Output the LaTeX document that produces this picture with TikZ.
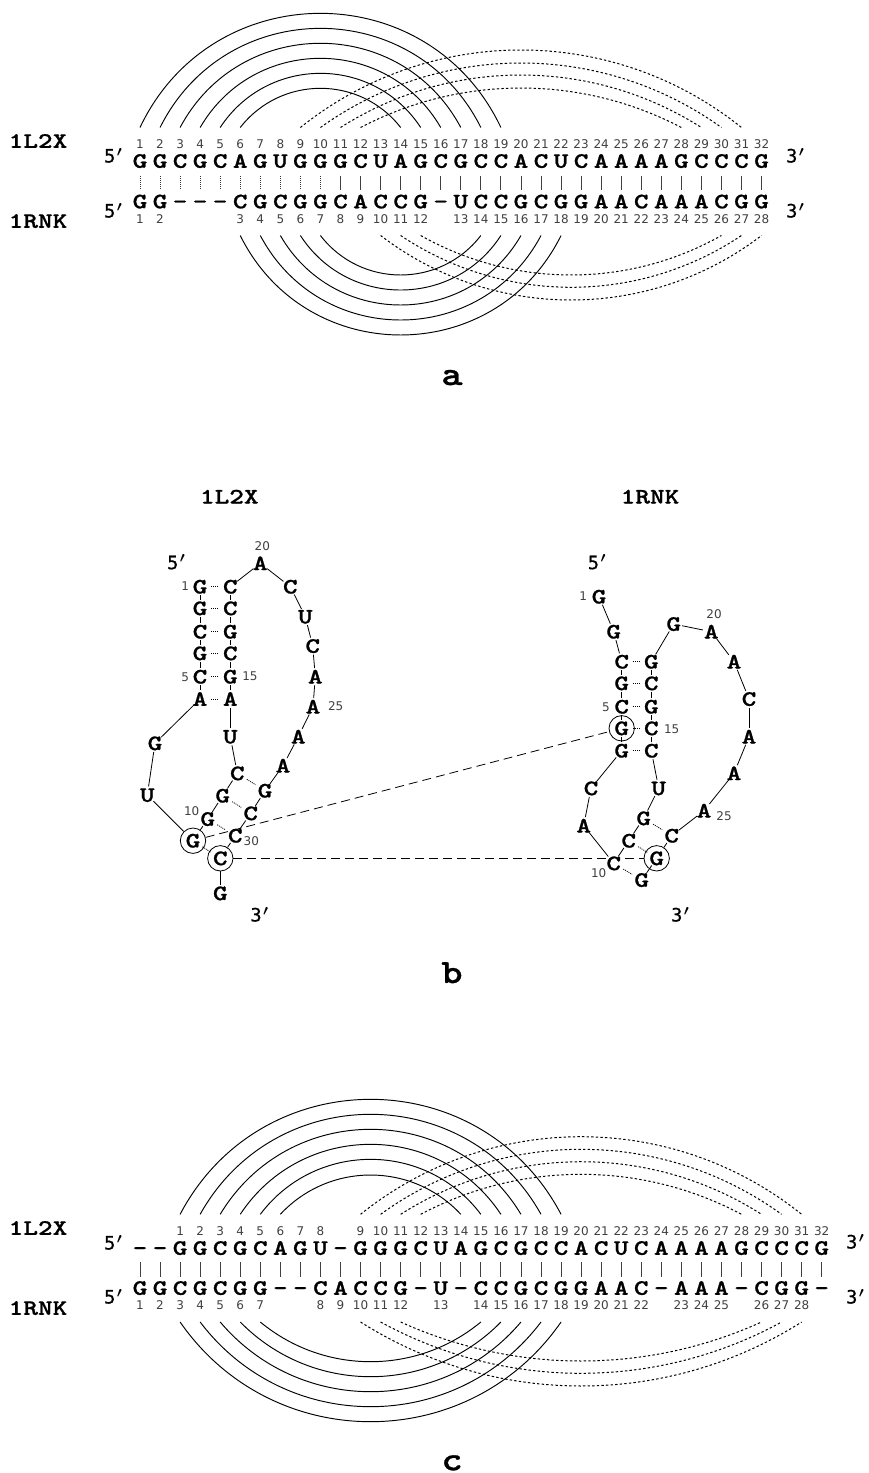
\documentclass[tikz,border=0pt]{standalone}
\usepackage{fontspec}
\newfontfamily\numf{DejaVu Sans}
\newfontfamily\endf[FakeBold=0.7]{DejaVu Sans Mono}
\newfontfamily\seqf[Extension=.otf,FakeBold=0.8]{lmmonolt10-bold}
\newcommand\ltrf{\seqf\fontsize{22}{22}\selectfont}
\newcommand\bl[1]{\makebox[0pt]{\raisebox{-6.8pt}[0pt][0pt]{\scalebox{1.27}[1]{\ltrf #1}}}}
\newcommand\nmt[1]{\makebox[0pt]{\raisebox{-4.6pt}[0pt][0pt]{\numf\fontsize{12}{12}\selectfont\color{black!75}#1}}}
\newcommand\prm[1]{\makebox[0pt]{\raisebox{-6.5pt}[0pt][0pt]{\endf\fontsize{18.5}{18.5}\selectfont #1\kern1.5pt\raisebox{6.5pt}{\fontsize{15}{15}\selectfont\boldmath$\prime$}}}}
\newcommand\panl[1]{\makebox[0pt]{\scalebox{1.18}[1]{\seqf\fontsize{34}{34}\selectfont #1}}}
\tikzset{
  nt/.style={circle,minimum size=17pt,inner sep=0pt},
  tx/.style={inner sep=0pt,minimum size=0pt},
  ringnode/.style={circle,draw,line width=0.8pt,minimum size=25.4pt,inner sep=0pt},
  sarc/.style={line width=0.95pt},
  darc/.style={line width=1pt,dash pattern=on 2.4pt off 2.2pt},
  back/.style={line width=0.8pt},
  pairdot/.style={line width=0.8pt,dash pattern=on 1pt off 1pt,shorten >=2.5pt,shorten <=2.5pt},
  dashl/.style={line width=0.8pt,dash pattern=on 9pt off 5pt},
  barA/.style={line width=0.9pt,black!75,shorten <=6.5pt,shorten >=3pt},
  barAd/.style={line width=0.8pt,black!80,dash pattern=on 1pt off 1pt,shorten <=6.5pt,shorten >=3pt},
  barC/.style={line width=0.9pt,black!75,shorten <=5.5pt,shorten >=2.5pt},
}
% bow between alignment positions #3 and #4 : [style]{tag}{i}{j}{yend}{ypeak}
\newcommand\barc[6][]{%
  \pgfmathsetmacro\bAx{140+(#3-1)*20.05}%
  \pgfmathsetmacro\bBx{140+(#4-1)*20.05}%
  \pgfmathsetmacro\bHw{(\bBx-\bAx)/200}%
  \pgfmathsetmacro\bHh{abs(#6-#5)/100}%
  \pgfmathsetmacro\bRr{(\bHw*\bHw+\bHh*\bHh)/(2*\bHh)}%
  \pgfmathsetmacro\bTh{asin(\bHw/\bRr)}%
  \pgfmathsetmacro\bKk{4/3*tan(\bTh/2)*\bRr*100}%
  \pgfmathsetmacro\bCx{\bKk*cos(\bTh)}%
  \pgfmathsetmacro\bCy{\bKk*sin(\bTh)*ifthenelse(#6<#5,-1,1)}%
  \coordinate (#2s#3) at (\bAx,#5);
  \coordinate (#2e#4) at (\bBx,#5);
  \draw[#1] (#2s#3) .. controls +(\bCx,\bCy) and +(-\bCx,\bCy) .. (#2e#4);
}
% row of letters: {tag}{y}{letters}
\newcommand\seqrow[3]{%
  \foreach \c [count=\i] in {#3}{
    \node[nt,name=#1\i] at ({140+(\i-1)*20.05},#2) {\bl{\c}};
  }%
}
% row of numbers: {tag}{y}{pos/num,...}
\newcommand\numrow[3]{%
  \foreach \p/\n in {#3}{
    \node[tx,name=#1\n] at ({140+(\p-1)*20.05},#2) {\nmt{\n}};
  }%
}
\begin{document}
\begin{tikzpicture}[x=1pt,y=-1pt]
\path[fill=white,use as bounding box] (0,0) rectangle (869,1473);

%%%%%% panel a
\node[tx,name=aL1] at (38,141) {\bl{1L2X}};
\node[tx,name=aL2] at (38,221) {\bl{1RNK}};
\node[tx,name=a5t] at (113,156) {\prm{5}};
\node[tx,name=a5b] at (113,211) {\prm{5}};
\node[tx,name=a3t] at (795,156) {\prm{3}};
\node[tx,name=a3b] at (795,211) {\prm{3}};
\numrow{ant}{144}{1/1,2/2,3/3,4/4,5/5,6/6,7/7,8/8,9/9,10/10,11/11,12/12,13/13,14/14,15/15,16/16,17/17,18/18,19/19,20/20,21/21,22/22,23/23,24/24,25/25,26/26,27/27,28/28,29/29,30/30,31/31,32/32}
\numrow{anb}{219}{1/1,2/2,6/3,7/4,8/5,9/6,10/7,11/8,12/9,13/10,14/11,15/12,17/13,18/14,19/15,20/16,21/17,22/18,23/19,24/20,25/21,26/22,27/23,28/24,29/25,30/26,31/27,32/28}
\seqrow{at}{161}{G,G,C,G,C,A,G,U,G,G,G,C,U,A,G,C,G,C,C,A,C,U,C,A,A,A,A,G,C,C,C,G}
\seqrow{ab}{201.5}{G,G,-,-,-,C,G,C,G,G,C,A,C,C,G,-,U,C,C,G,C,G,G,A,A,C,A,A,A,C,G,G}
\foreach \i in {1,...,10}{\draw[barAd] (at\i) -- (ab\i);}
\foreach \i in {11,...,32}{\draw[barA] (at\i) -- (ab\i);}
\barc[sarc]{au}{1}{19}{127.5}{13.3}
\barc[sarc]{au}{2}{18}{127.5}{28.3}
\barc[sarc]{au}{3}{17}{127.5}{43.3}
\barc[sarc]{au}{4}{16}{127.5}{58.3}
\barc[sarc]{au}{5}{15}{127.5}{73.3}
\barc[sarc]{au}{6}{14}{127.5}{88.3}
\barc[darc]{av}{9}{31}{127.5}{50}
\barc[darc]{av}{10}{30}{127.5}{63}
\barc[darc]{av}{11}{29}{127.5}{75}
\barc[darc]{av}{12}{28}{127.5}{88}
\barc[sarc]{aw}{6}{22}{235.5}{335}
\barc[sarc]{aw}{7}{21}{235.5}{320}
\barc[sarc]{aw}{8}{20}{235.5}{305}
\barc[sarc]{aw}{9}{19}{235.5}{290}
\barc[sarc]{aw}{10}{18}{235.5}{275}
\barc[darc]{ax}{13}{32}{235.5}{300}
\barc[darc]{ax}{14}{31}{235.5}{287.3}
\barc[darc]{ax}{15}{30}{235.5}{275}
\node[tx,name=pa,anchor=base] at (452,385) {\panl{a}};

%%%%%% panel b
\node[tx,name=bT1] at (229.3,496.7) {\bl{1L2X}};
\node[tx,name=bT2] at (650,496.7) {\bl{1RNK}};
\node[tx,name=b5l] at (176,562.7) {\prm{5}};
\node[tx,name=b3l] at (259.3,915) {\prm{3}};
\node[tx,name=b5r] at (596.7,562.7) {\prm{5}};
\node[tx,name=b3r] at (680,915) {\prm{3}};
\node[ringnode,name=ringLa] at (193,840.7) {};
\node[ringnode,name=ringLb] at (220.3,858.3) {};
\node[ringnode,name=ringRa] at (621.7,728.3) {};
\node[ringnode,name=ringRb] at (656.7,858.3) {};
\draw[dashl] (ringLa) -- (ringRa);
\draw[dashl] (ringLb) -- (ringRb);
\foreach \i/\x/\y/\c in {1/200/586.7/G,2/200/608.3/G,3/200/631.7/C,4/200/653.3/G,5/200/676.7/C,6/200/699/A,
 7/155/743.3/G,8/147.3/795/U,9/193/840.7/G,10/207.7/819/G,11/222.7/795.7/G,12/237.3/773.3/C,13/230.3/736.7/U,
 14/230.3/699/A,15/230.3/676.7/G,16/230.3/653.3/C,17/230.3/631.7/G,18/230.3/608.3/C,19/230.3/586.7/C,
 20/260.3/563.3/A,21/290.3/586.7/C,22/305.3/616.7/U,23/312.7/646/C,24/315.3/676.7/A,25/313/706.7/A,
 26/298.3/736.7/A,27/283/765.7/A,28/265/790.7/G,29/250.7/813.3/C,30/235.3/835.7/C,31/220.3/858.3/C,32/220.3/893.3/G}{
  \node[nt,name=L\i] at (\x,\y) {\bl{\c}};
}
\foreach \a/\b in {1/2,2/3,3/4,4/5,5/6,6/7,7/8,10/11,11/12,12/13,13/14,14/15,15/16,16/17,17/18,18/19,19/20,20/21,21/22,22/23,23/24,24/25,25/26,26/27,27/28,28/29,29/30}{
  \draw[back] (L\a) -- (L\b);
}
\draw[back] (L8) -- (ringLa);
\draw[back] (L10) -- (ringLa);
\draw[back] (L30) -- (ringLb);
\draw[back] (ringLb) -- (L32);
\foreach \a/\b in {1/19,2/18,3/17,4/16,5/15,6/14,12/28,11/29,10/30,9/31}{
  \draw[pairdot] (L\a) -- (L\b);
}
\node[tx,name=Ln20] at (262.3,546) {\nmt{20}};
\node[tx,name=Ln1] at (185.3,586) {\nmt{1}};
\node[tx,name=Ln5] at (185.3,676.7) {\nmt{5}};
\node[tx,name=Ln15] at (250,676) {\nmt{15}};
\node[tx,name=Ln25] at (335.7,706) {\nmt{25}};
\node[tx,name=Ln10] at (191.7,811) {\nmt{10}};
\node[tx,name=Ln30] at (251.3,841) {\nmt{30}};

\foreach \i/\x/\y/\c/\f in {1/599/596.7/G/none,2/613.7/631.7/G/none,3/621.7/661.7/C/none,4/621.7/683.3/G/none,5/621.7/706.7/C/none,6/621.7/728.3/G/none,7/621.7/750.7/G/none,
 8/591/788.3/C/none,9/583.7/825.7/A/none,10/613.7/863.3/C/white,11/628.7/840.7/C/none,12/643.7/818.3/G/none,13/658.7/788.3/U/none,
 14/651.3/750.7/C/none,15/651.3/728.3/C/none,16/651.3/706.7/G/none,17/651.3/683.3/C/none,18/651.3/661.7/G/none,19/673.7/624/G/none,
 20/711.3/631.7/A/none,21/734/661.7/A/none,22/749/699/C/none,23/749/736.7/A/none,24/734/773.3/A/none,25/704/810.7/A/none,
 26/671.7/835.7/C/none,27/656.7/858.3/G/none,28/641.7/880/G/none}{
  \node[nt,fill=\f,name=R\i] at (\x,\y) {\bl{\c}};
}
\foreach \a/\b in {1/2,2/3,3/4,4/5,5/6,6/7,7/8,8/9,9/10,10/11,11/12,12/13,13/14,14/15,15/16,16/17,17/18,18/19,19/20,20/21,21/22,22/23,23/24,24/25,25/26,27/28}{
  \draw[back] (R\a) -- (R\b);
}
\draw[back] (R26) -- (ringRb);
\foreach \a/\b in {3/18,4/17,5/16,6/15,7/14,12/26,11/27,10/28}{
  \draw[pairdot] (R\a) -- (R\b);
}
\node[tx,name=Rn1] at (583.3,596) {\nmt{1}};
\node[tx,name=Rn5] at (606,707.3) {\nmt{5}};
\node[tx,name=Rn15] at (671.7,729.3) {\nmt{15}};
\node[tx,name=Rn20] at (714,614) {\nmt{20}};
\node[tx,name=Rn25] at (724,816) {\nmt{25}};
\node[tx,name=Rn10] at (598.7,873.3) {\nmt{10}};
\node[tx,name=pb,anchor=base] at (452,983) {\panl{b}};

%%%%%% panel c
\node[tx,name=cL1] at (38,1228) {\bl{1L2X}};
\node[tx,name=cL2] at (38,1308) {\bl{1RNK}};
\node[tx,name=c5t] at (113,1243) {\prm{5}};
\node[tx,name=c5b] at (113,1297) {\prm{5}};
\node[tx,name=c3t] at (855,1242) {\prm{3}};
\node[tx,name=c3b] at (855,1297) {\prm{3}};
\numrow{cnt}{1231}{3/1,4/2,5/3,6/4,7/5,8/6,9/7,10/8,12/9,13/10,14/11,15/12,16/13,17/14,18/15,19/16,20/17,21/18,22/19,23/20,24/21,25/22,26/23,27/24,28/25,29/26,30/27,31/28,32/29,33/30,34/31,35/32}
\numrow{cnb}{1305}{1/1,2/2,3/3,4/4,5/5,6/6,7/7,10/8,11/9,12/10,13/11,14/12,16/13,18/14,19/15,20/16,21/17,22/18,23/19,24/20,25/21,26/22,28/23,29/24,30/25,32/26,33/27,34/28}
\seqrow{ct}{1248}{-,-,G,G,C,G,C,A,G,U,-,G,G,G,C,U,A,G,C,G,C,C,A,C,U,C,A,A,A,A,G,C,C,C,G}
\seqrow{cb}{1288}{G,G,C,G,C,G,G,-,-,C,A,C,C,G,-,U,-,C,C,G,C,G,G,A,A,C,-,A,A,A,-,C,G,G,-}
\foreach \i in {1,...,35}{\draw[barC] (ct\i) -- (cb\i);}
\barc[sarc]{cu}{3}{22}{1214.3}{1099.3}
\barc[sarc]{cu}{4}{21}{1214.3}{1114.3}
\barc[sarc]{cu}{5}{20}{1214.3}{1129.3}
\barc[sarc]{cu}{6}{19}{1214.3}{1144.3}
\barc[sarc]{cu}{7}{18}{1214.3}{1159.3}
\barc[sarc]{cu}{8}{17}{1214.3}{1175}
\barc[darc]{cv}{12}{34}{1214.3}{1136.7}
\barc[darc]{cv}{13}{33}{1214.3}{1149.3}
\barc[darc]{cv}{14}{32}{1214.3}{1161.7}
\barc[darc]{cv}{15}{31}{1214.3}{1174.3}
\barc[sarc]{cw}{3}{22}{1322}{1421.7}
\barc[sarc]{cw}{4}{21}{1322}{1406.7}
\barc[sarc]{cw}{5}{20}{1322}{1391.7}
\barc[sarc]{cw}{6}{19}{1322}{1376.7}
\barc[sarc]{cw}{7}{18}{1322}{1361.7}
\barc[darc]{cx}{12}{34}{1322}{1386}
\barc[darc]{cx}{13}{33}{1322}{1373.3}
\barc[darc]{cx}{14}{32}{1322}{1361}
\node[tx,name=pc,anchor=base] at (452,1470.3) {\panl{c}};
\end{tikzpicture}
\end{document}
